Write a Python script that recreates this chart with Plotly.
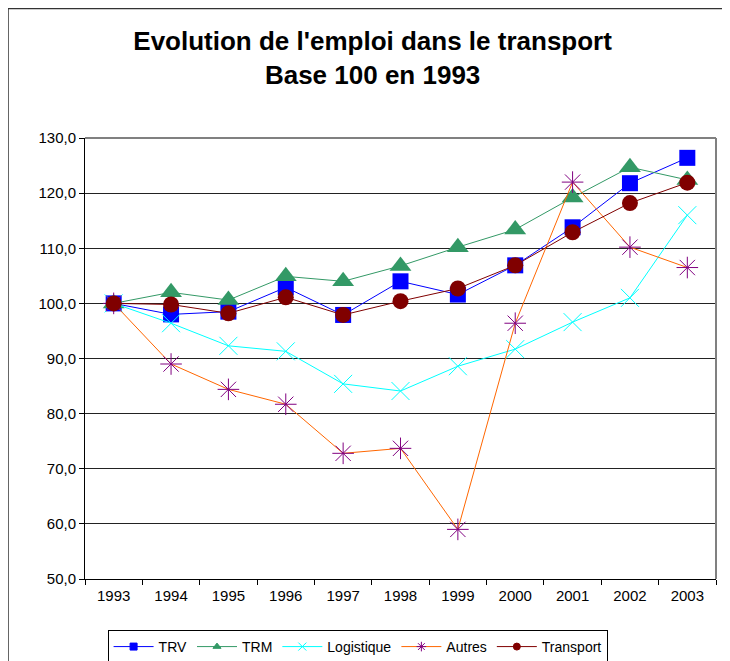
import plotly.graph_objects as go

years = ["1993", "1994", "1995", "1996", "1997", "1998", "1999", "2000", "2001", "2002", "2003"]
trv = [100.0, 98.0, 98.5, 102.9, 97.9, 104.0, 101.6, 106.9, 113.8, 121.8, 126.4]
trm = [100.0, 102.0, 100.6, 104.9, 104.0, 106.8, 110.2, 113.4, 119.2, 124.7, 122.4]
logistique = [100.0, 96.4, 92.3, 91.3, 85.4, 84.1, 88.6, 91.7, 96.6, 101.0, 116.0]
autres = [100.0, 89.0, 84.4, 81.7, 72.8, 73.7, 59.0, 96.4, 122.0, 110.2, 106.5]
transport = [100.0, 99.8, 98.2, 101.1, 97.9, 100.4, 102.7, 106.9, 112.9, 118.2, 121.9]

series = [
    ("TRV", trv, "#0000FF", dict(symbol="square", size=16, color="#0000FF"), "square"),
    ("TRM", trm, "#339966", dict(symbol="triangle-up", size=19, color="#339966"), "triangle-up"),
    ("Logistique", logistique, "#00FFFF",
     dict(symbol="x-thin-open", size=18, color="#00FFFF", line=dict(color="#00FFFF", width=1)),
     "x-thin-open"),
    ("Autres", autres, "#FF6600",
     dict(symbol="asterisk-open", size=18, color="#800080", line=dict(color="#800080", width=1)),
     "asterisk-open"),
    ("Transport", transport, "#800000", dict(symbol="circle", size=16, color="#800000"), "circle"),
]

fig = go.Figure()
for name, vals, lc, mk, sym in series:
    fig.add_trace(go.Scatter(x=years, y=vals, name=name, mode="lines+markers",
                             line=dict(color=lc, width=1), marker=mk, showlegend=False))
# legend entries (small markers like the original)
for name, vals, lc, mk, sym in series:
    mcol = mk["color"]
    fig.add_trace(go.Scatter(x=[None], y=[None], name=name, mode="lines+markers",
                             line=dict(color=lc, width=1),
                             marker=dict(symbol=sym, size=7 if "open" not in sym else 8,
                                         color=mcol, line=dict(color=mcol, width=1)),
                             showlegend=True))

W, H = 722, 653
L, T, R, B = 77, 130, 14, 82
pw, ph = W - L - R, H - T - B

fig.update_layout(
    width=W, height=H,
    paper_bgcolor="white", plot_bgcolor="white",
    margin=dict(l=L, r=R, t=T, b=B, autoexpand=False),
    separators=", ",
    font=dict(family="Liberation Sans, Arial, sans-serif", size=15, color="black"),
    title=dict(text="<b>Evolution de l'emploi dans le transport<br>Base 100 en 1993</b>",
               x=0.505, xanchor="center", y=0.935, yanchor="top", yref="container",
               font=dict(size=26, color="black")),
    showlegend=True,
    legend=dict(orientation="h", x=0.432, xanchor="center", y=-0.1156, yanchor="top",
                bordercolor="black", borderwidth=1, font=dict(size=14),
                itemwidth=40, tracegroupgap=0),
    xaxis=dict(type="category", showgrid=False, showline=True, linecolor="black", linewidth=1,
               ticks="outside", ticklen=5, tickcolor="black", tickson="boundaries",
               ticklabelstandoff=3,
               mirror=False, zeroline=False, range=[-0.5, 10.5]),
    yaxis=dict(range=[50, 130], dtick=10, tickformat=".1f", showgrid=True,
               gridcolor="#222222", gridwidth=1, showline=True, linecolor="black", linewidth=1,
               ticks="outside", ticklen=5, tickcolor="black", zeroline=False),
    shapes=[
        dict(type="line", xref="paper", yref="paper", x0=0, x1=1, y0=1, y1=1,
             line=dict(color="#808080", width=2)),
        dict(type="line", xref="paper", yref="paper", x0=1, x1=1, y0=0, y1=1,
             line=dict(color="#808080", width=2)),
        dict(type="rect", xref="paper", yref="paper",
             x0=(0 - L) / pw, x1=(W + 5 - L) / pw, y0=-(B + 5) / ph, y1=(ph + T - 0.5) / ph,
             line=dict(color="#333333", width=1.5), fillcolor="rgba(0,0,0,0)", layer="below"),
    ],
)

fig.write_html("out.html")
